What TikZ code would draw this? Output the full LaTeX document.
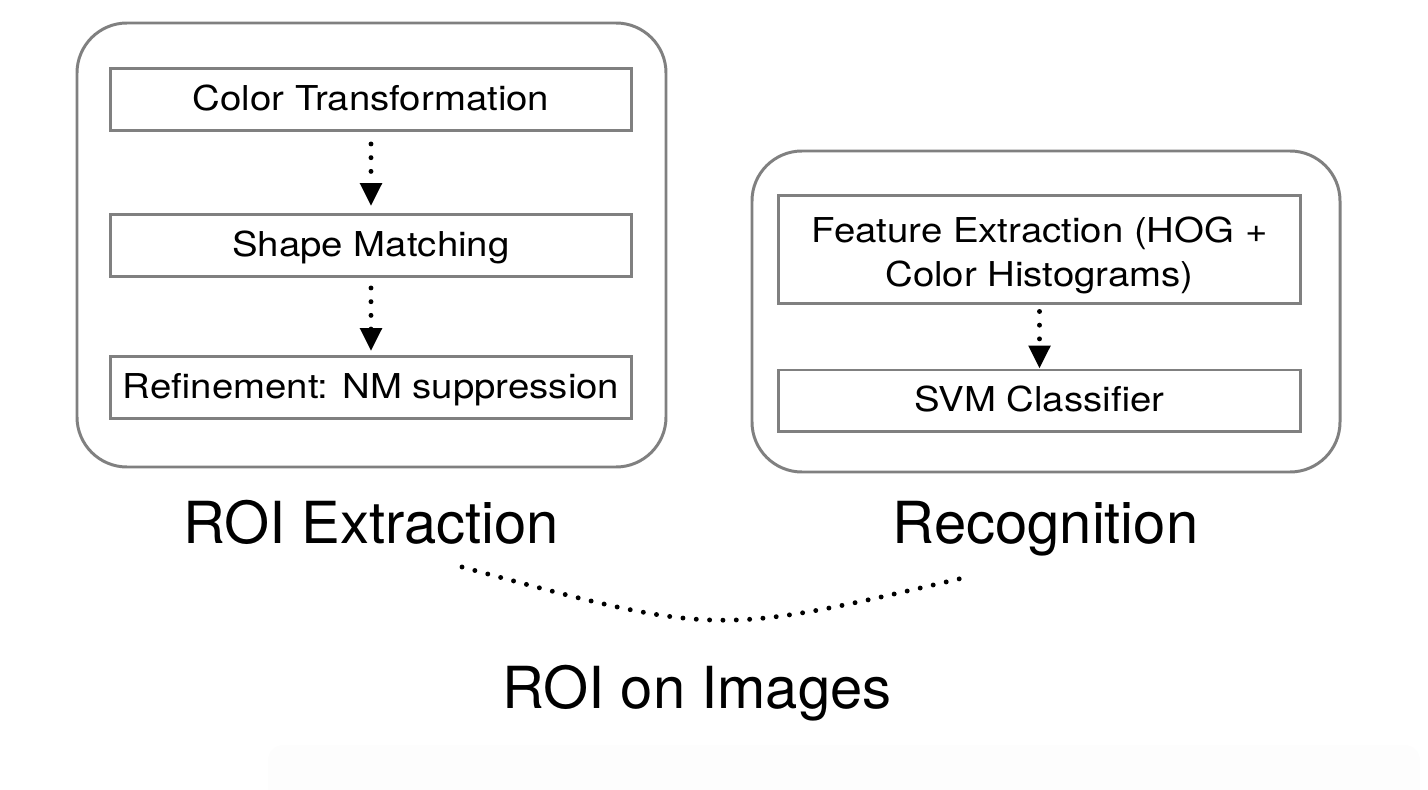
\documentclass[tikz,border=0pt]{standalone}
\usepackage{fontspec}
\setmainfont{TeX Gyre Heros}
\newfontfamily\boxfont{TeX Gyre Heros}[FakeStretch=1.12]
\usetikzlibrary{arrows.meta}

\definecolor{boxgray}{RGB}{128,128,128}
\definecolor{faintgray}{RGB}{253,253,253}

\tikzset{
  groupbox/.style={draw=boxgray, line width=1.7pt, rounded corners=1cm},
  stagebox/.style={draw=boxgray, line width=1.7pt, minimum width=10.44cm,
    minimum height=1.24cm, inner sep=0pt, align=center,
    text height=14.5pt, text depth=2pt,
    font=\boxfont\fontsize{19.5}{25}\selectfont},
  biglabel/.style={anchor=base, font=\fontsize{33}{40}\selectfont},
  dotflow/.style={line width=2.8pt, line cap=round, dash pattern=on 0pt off 7.8pt,
    -{Triangle[width=12pt,length=13pt]}},
  dotcurve/.style={line width=2.8pt, line cap=round, dash pattern=on 0pt off 7.6pt}
}

\begin{document}
\begin{tikzpicture}[x=0.02cm,y=-0.02cm]
\useasboundingbox (0,0) rectangle (1428,790);

%faint strip at the bottom
\fill[faintgray, rounded corners=0.3cm] (268,745) rectangle (1420,810);

%drawing the two groups
\draw[groupbox] (77,23) rectangle (666,467);
\draw[groupbox] (752,151) rectangle (1340,472);

%stages of ROI extraction
\node[stagebox] (color) at (371,99.5) {Color Transformation};
\node[stagebox] (shape) at (371,245.5) {Shape Matching};
\node[stagebox] (refine) at (371,387.5) {Refinement: NM suppression};

%stages of recognition
\node[stagebox, minimum height=2.18cm, text height=44.6pt] (feature) at (1039.5,249.5)
  {Feature Extraction (HOG +\\Color Histograms)};
\node[stagebox] (svm) at (1039.5,401) {SVM Classifier};

%connecting them
\draw[dotflow, shorten <=0.24cm, shorten >=0.14cm] (color) -- (shape);
\draw[dotflow, shorten <=0.2cm, shorten >=0.08cm] (shape) -- (refine);
\draw[dotflow, shorten <=0.12cm] (feature) -- (svm);

%group titles
\node[biglabel] (roi) at (371,544) {ROI Extraction};
\node[biglabel] (recog) at (1045.5,544) {Recognition};
\node[biglabel] (images) at (697,708) {ROI on Images};

%dotted curve between the titles
\coordinate (curveL) at (462,567);
\coordinate (curveR) at (963,578);
\draw[dotcurve] (curveL) .. controls (716,636) .. (curveR);
\end{tikzpicture}
\end{document}
